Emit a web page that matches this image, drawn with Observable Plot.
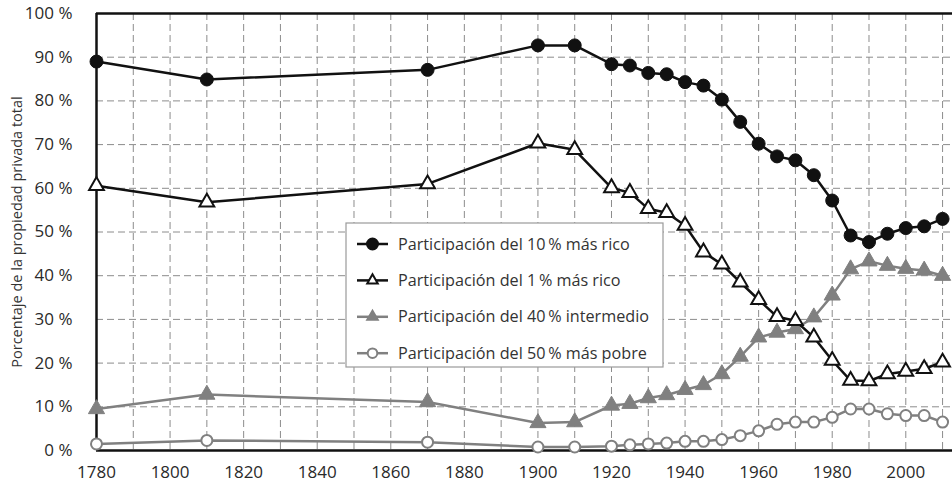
<!DOCTYPE html>
<html><head><meta charset="utf-8">
<script src="https://cdn.jsdelivr.net/npm/d3@7"></script>
<script src="https://cdn.jsdelivr.net/npm/@observablehq/plot@0.6"></script>
<style>
body{margin:0;background:#fff}
#chart{width:952px;height:488px}
</style>
</head><body><div id="chart"></div>
<script>
const years = [1780,1810,1870,1900,1910,1920,1925,1930,1935,1940,1945,1950,1955,1960,1965,1970,1975,1980,1985,1990,1995,2000,2005,2010];
const top10 = [89.0,84.9,87.1,92.7,92.7,88.4,88.1,86.4,86.1,84.3,83.5,80.3,75.2,70.2,67.3,66.4,63.0,57.2,49.2,47.7,49.6,50.9,51.3,53.0];
const top1  = [60.6,56.8,61.0,70.3,68.8,60.1,59.0,55.3,54.4,51.5,45.4,42.6,38.5,34.5,30.6,29.7,25.9,20.6,16.0,15.9,17.5,18.1,18.7,20.2];
const mid40 = [9.5,12.8,11.1,6.3,6.5,10.3,10.7,12.0,12.7,13.9,15.0,17.5,21.5,25.9,27.0,27.8,30.5,35.5,41.5,43.3,42.3,41.6,41.2,40.0];
const bot50 = [1.5,2.3,1.9,0.8,0.8,1.0,1.3,1.5,1.7,2.1,2.1,2.5,3.4,4.5,6.0,6.5,6.5,7.6,9.5,9.5,8.4,8.0,8.0,6.5];
const seriesNames = [
  "Participación del 10\u2009% más rico",
  "Participación del 1\u2009% más rico",
  "Participación del 40\u2009% intermedio",
  "Participación del 50\u2009% más pobre"
];
const xTicks = [1780,1800,1820,1840,1860,1880,1900,1920,1940,1960,1980,2000];
const yTicks = [0,10,20,30,40,50,60,70,80,90,100];
const yTitle = "Porcentaje de la propiedad privada total";

const rows = (vals, s) => years.map((year, i) => ({year, value: vals[i], series: s}));
const d10 = rows(top10, seriesNames[0]);
const d1 = rows(top1, seriesNames[1]);
const d40 = rows(mid40, seriesNames[2]);
const d50 = rows(bot50, seriesNames[3]);

const black = "#111";
const gray = "#808080";
const textColor = "#2a2a2a";
const gridStyle = {stroke: "#8c8c8c", strokeDasharray: "7,4", strokeWidth: 1};

const chart = Plot.plot({
  width: 952, height: 488,
  marginLeft: 96, marginRight: 0, marginTop: 13, marginBottom: 38,
  style: {fontFamily: "'Open Sans', sans-serif", fontSize: "16px", color: "#333", background: "#fff"},
  x: {domain: [1780, 2012.7], axis: null},
  y: {domain: [0, 100], axis: null},
  marks: [
    Plot.ruleX(d3.range(1790, 2011, 10), gridStyle),
    Plot.ruleY(d3.range(10, 100, 10), gridStyle),
    Plot.text(xTicks, {x: d => d, frameAnchor: "bottom", dy: 27, text: d => String(d), fontSize: 17, fill: textColor}),
    Plot.text(yTicks, {y: d => d, frameAnchor: "left", dx: -24, textAnchor: "end", text: d => d + " %", fontSize: 17, fill: textColor}),
    Plot.text([yTitle], {frameAnchor: "left", dx: -79, rotate: -90, textAnchor: "middle", fontSize: 14.5, fill: "#333"}),
    Plot.ruleY([0], {stroke: black, strokeWidth: 2.5}),
    Plot.ruleY([100], {stroke: black, strokeWidth: 2.5}),
    Plot.ruleX([1780], {stroke: black, strokeWidth: 2.5}),
    Plot.line(d50, {x: "year", y: "value", stroke: gray, strokeWidth: 2.5}),
    Plot.dot(d50, {x: "year", y: "value", r: 5.5, fill: "#fff", stroke: gray, strokeWidth: 2}),
    Plot.line(d40, {x: "year", y: "value", stroke: gray, strokeWidth: 2.5}),
    Plot.dot(d40, {x: "year", y: "value", symbol: "triangle", r: 6, fill: gray, stroke: gray, strokeWidth: 1}),
    Plot.line(d1, {x: "year", y: "value", stroke: black, strokeWidth: 2.5}),
    Plot.dot(d1, {x: "year", y: "value", symbol: "triangle", r: 5.5, fill: "#fff", stroke: black, strokeWidth: 2}),
    Plot.line(d10, {x: "year", y: "value", stroke: black, strokeWidth: 2.5}),
    Plot.dot(d10, {x: "year", y: "value", r: 6.5, fill: black, stroke: black, strokeWidth: 1})
  ]
});
document.getElementById("chart").appendChild(chart);

// legend inside the plot area
const legendSpec = [
  {name: seriesNames[0], line: black, sym: d3.symbolCircle, fill: black, stroke: black, r: 5.5},
  {name: seriesNames[1], line: black, sym: d3.symbolTriangle2, fill: "#fff", stroke: black, r: 5},
  {name: seriesNames[2], line: gray, sym: d3.symbolTriangle2, fill: gray, stroke: gray, r: 5},
  {name: seriesNames[3], line: gray, sym: d3.symbolCircle, fill: "#fff", stroke: gray, r: 4.8}
];
const svg = d3.select(chart);
const lg = svg.append("g");
lg.append("rect").attr("x", 346).attr("y", 223).attr("width", 317).attr("height", 144)
  .attr("fill", "#fff").attr("stroke", "#9a9a9a").attr("stroke-width", 1.2);
legendSpec.forEach((s, i) => {
  const cy = 244 + i * 36.4;
  lg.append("line").attr("x1", 357).attr("x2", 388).attr("y1", cy).attr("y2", cy)
    .attr("stroke", s.line).attr("stroke-width", 2.5);
  lg.append("path").attr("d", d3.symbol(s.sym, Math.PI * s.r * s.r)())
    .attr("transform", `translate(372.5,${cy})`)
    .attr("fill", s.fill).attr("stroke", s.stroke).attr("stroke-width", 2);
  lg.append("text").attr("x", 398).attr("y", cy).attr("dy", "0.35em")
    .attr("text-anchor", "start")
    .attr("fill", "#333").attr("font-size", 16.2).text(s.name);
});
</script>
</body></html>
